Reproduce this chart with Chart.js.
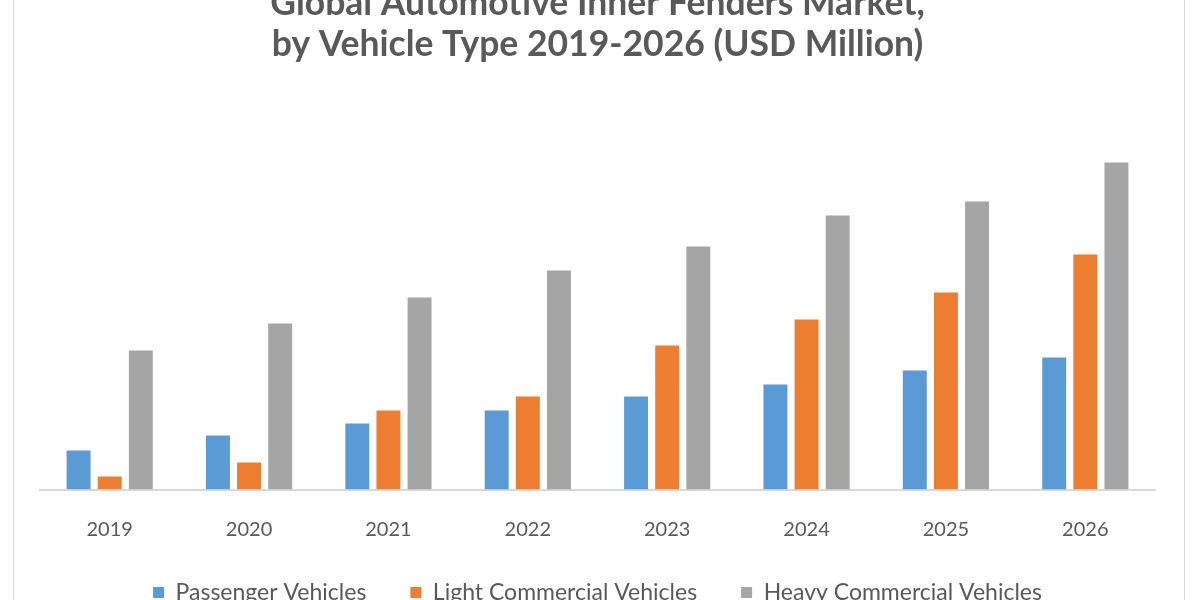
<!DOCTYPE html>
<html>
<head>
<meta charset="utf-8">
<script src="https://cdn.jsdelivr.net/npm/chart.js@4.4.1/dist/chart.umd.min.js"></script>
<style>
  html, body { margin: 0; padding: 0; background: #fff; overflow: hidden; }
  #wrap { position: absolute; left: 0; top: -30px; width: 1200px; height: 644px; }
</style>
</head>
<body>
<div id="wrap"><canvas id="chart"></canvas></div>
<script>
// Datos (valores aproximados)
const years = ['2019', '2020', '2021', '2022', '2023', '2024', '2025', '2026'];
const passengerVehicles = [39, 54, 66, 79, 93, 105, 119, 132];
const lightCommercial = [13, 27, 79, 93, 144, 170, 197, 235];
const heavyCommercial = [139, 166, 192, 219, 243, 274, 288, 327];
const titleLines = ['Global Automotive Inner Fenders Market,', 'by Vehicle Type 2019-2026 (USD Million)'];

// Marco gris claro alrededor del grafico
const framePlugin = {
    id: 'frame',
    beforeDraw(chart) {
        const ctx = chart.ctx;
        ctx.save();
        ctx.strokeStyle = '#d9d9d9';
        ctx.lineWidth = 1;
        ctx.strokeRect(13.5, 0.5, 1171, 700);
        ctx.restore();
    }
};

const ctx = document.getElementById('chart').getContext('2d');
new Chart(ctx, {
    type: 'bar',
    data: {
        labels: years,
        datasets: [
            { label: 'Passenger Vehicles', data: passengerVehicles, backgroundColor: '#5b9bd5' },
            { label: 'Light Commercial Vehicles', data: lightCommercial, backgroundColor: '#ed7d31' },
            { label: 'Heavy Commercial Vehicles', data: heavyCommercial, backgroundColor: '#a5a5a5' }
        ]
    },
    options: {
        responsive: true,
        maintainAspectRatio: false,
        animation: false,
        datasets: {
            bar: { categoryPercentage: 0.67, barPercentage: 0.77 }
        },
        layout: { padding: { left: 40, right: 45, top: 0, bottom: 0 } },
        scales: {
            x: {
                grid: { display: false },
                border: { display: true, color: '#d9d9d9', width: 2 },
                ticks: { color: '#595959', font: { family: 'Lato', size: 20 }, padding: 20 },
                // altura fija del eje para acercar la leyenda
                afterFit: (scale) => { scale.height = 47.5; }
            },
            y: {
                display: false,
                min: 0,
                max: 405
            }
        },
        plugins: {
            title: {
                display: true,
                text: titleLines,
                color: '#595959',
                font: { family: 'Lato', size: 35.5, weight: 'bold', lineHeight: 1.15 },
                padding: { top: 13, bottom: 20 }
            },
            legend: {
                position: 'bottom',
                labels: {
                    color: '#595959',
                    font: { family: 'Lato', size: 23 },
                    boxWidth: 11,
                    boxHeight: 11,
                    padding: 44
                }
            },
            tooltip: { enabled: false }
        }
    },
    plugins: [framePlugin]
});
</script>
</body>
</html>
